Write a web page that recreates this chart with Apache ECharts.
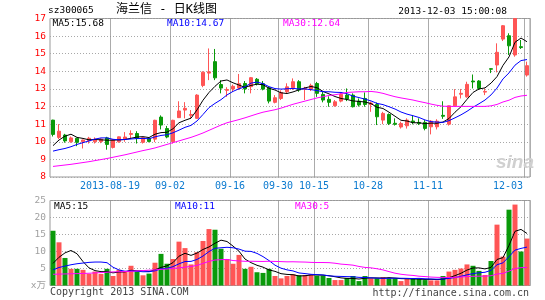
<!DOCTYPE html>
<html><head><meta charset="utf-8">
<script src="https://cdn.jsdelivr.net/npm/echarts@6/dist/echarts.min.js"></script>
<style>html,body{margin:0;padding:0;background:#fff}#c{width:545px;height:300px}</style>
</head><body><div id="c"></div>
<script>
const dates = [
'2013-08-05','2013-08-06','2013-08-07','2013-08-08','2013-08-09','2013-08-12','2013-08-13','2013-08-14','2013-08-15','2013-08-16',
'2013-08-19','2013-08-20','2013-08-21','2013-08-22','2013-08-23','2013-08-26','2013-08-27','2013-08-28','2013-08-29','2013-08-30',
'2013-09-02','2013-09-03','2013-09-04','2013-09-05','2013-09-06','2013-09-09','2013-09-10','2013-09-11','2013-09-12','2013-09-13',
'2013-09-16','2013-09-17','2013-09-18','2013-09-23','2013-09-24','2013-09-25','2013-09-26','2013-09-27','2013-09-30','2013-10-08',
'2013-10-09','2013-10-10','2013-10-11','2013-10-14','2013-10-15','2013-10-16','2013-10-17','2013-10-18','2013-10-21','2013-10-22',
'2013-10-23','2013-10-24','2013-10-25','2013-10-28','2013-10-29','2013-10-30','2013-10-31','2013-11-01','2013-11-04','2013-11-05',
'2013-11-06','2013-11-07','2013-11-08','2013-11-11','2013-11-12','2013-11-13','2013-11-14','2013-11-15','2013-11-18','2013-11-19',
'2013-11-20','2013-11-21','2013-11-22','2013-11-25','2013-11-26','2013-11-27','2013-11-28','2013-11-29','2013-12-02','2013-12-03'];

const openP = [11.23,10.25,10.38,10.00,10.20,10.00,10.05,10.00,10.02,10.22, 9.68,10.00,10.15,10.42,10.47,9.97,10.20,10.15,11.40,10.75,
 10.00,11.37,11.80,11.50,11.33,13.20,13.90,14.55,13.25,12.92, 13.00,13.05,13.31,13.13,13.55,13.30,13.07,12.24,12.46,12.84,
 13.07,13.41,12.98,12.99,13.31,12.69,12.41,12.05,12.31,12.65, 12.65,12.31,12.46,12.12,12.12,11.23,11.55,11.05,10.84,10.91,
 11.18,11.10,11.10,10.85,10.85,11.50,11.00,12.04,12.70,12.55, 13.45,13.45,12.82,14.15,14.36,15.83,16.02,14.93,15.40,13.79];
const closeP = [10.42,10.60,10.05,10.22,9.97,10.10,10.20,10.15,10.15,9.85, 10.12,10.28,10.27,10.47,10.20,10.23,10.02,11.22,10.95,10.27,
 11.22,11.75,11.90,11.55,12.65,13.95,13.97,13.63,13.05,12.97, 13.15,13.30,13.00,13.64,13.30,12.99,12.31,12.50,12.80,13.12,
 13.41,12.94,13.03,13.20,12.75,12.37,12.24,12.27,12.69,12.43, 11.99,12.09,12.12,12.20,11.42,11.61,11.04,10.99,11.04,11.23,
 11.10,11.04,10.76,11.17,11.17,11.45,12.04,12.55,12.75,13.26, 13.40,13.03,12.86,14.12,15.08,16.59,15.45,17.00,15.35,14.32];
const lowP = [10.30,10.15,9.95,9.95,9.75,9.62,9.90,9.90,9.92,9.55, 9.62,9.95,10.00,10.15,9.90,9.90,9.97,9.98,10.70,10.20,
 9.90,11.35,11.33,11.30,11.30,13.10,13.50,13.50,12.75,12.55, 12.83,12.95,12.75,12.75,13.20,12.92,12.18,12.18,12.37,12.75,
 12.94,12.84,12.37,12.88,12.55,12.24,11.99,11.99,12.24,12.31, 11.95,12.00,11.99,11.70,10.95,11.00,10.95,10.92,10.75,10.75,
 10.99,10.95,10.65,10.42,10.70,11.30,10.92,11.99,12.46,12.50, 13.03,12.94,12.65,13.90,13.94,15.72,14.93,14.83,15.27,13.70];
const highP = [11.25,11.00,10.45,10.30,10.22,10.12,10.28,10.25,10.20,10.28, 10.15,10.30,10.55,10.65,10.60,10.27,10.25,11.25,11.50,10.90,
 11.25,12.30,12.25,11.80,12.70,14.00,15.30,15.27,13.50,13.10, 13.25,13.85,13.45,13.68,13.62,13.45,13.10,12.65,12.92,13.32,
 13.60,13.50,13.12,13.30,13.40,12.84,12.58,12.37,12.80,13.03, 12.75,12.46,12.80,12.28,12.23,11.70,11.61,11.33,11.14,11.33,
 11.50,11.33,11.23,11.23,11.28,12.30,12.05,12.99,13.00,13.41, 13.82,13.50,13.03,14.18,15.59,16.63,16.16,17.00,15.78,14.55];

const ma5 = [9.78,10.10,10.32,10.43,10.25,10.19,10.11,10.13,10.11,10.09, 10.09,10.11,10.13,10.20,10.27,10.29,10.24,10.43,10.52,10.54,
 10.74,11.08,11.22,11.34,11.81,12.36,12.80,13.15,13.45,13.51, 13.35,13.22,13.09,13.20,13.27,13.24,13.04,12.94,12.78,12.74,
 12.83,12.95,13.06,13.14,13.07,12.86,12.72,12.57,12.46,12.40, 12.32,12.29,12.26,12.17,11.96,11.89,11.68,11.45,11.22,11.18,
 11.08,11.08,11.03,11.06,11.05,11.12,11.32,11.68,11.99,12.41, 12.80,13.00,13.06,13.33,13.70,14.34,14.82,15.65,15.89,15.68];
const ma10 = [9.47,9.55,9.62,9.72,9.85,9.95,10.05,10.15,10.22,10.22, 10.14,10.11,10.13,10.16,10.18,10.19,10.17,10.28,10.36,10.40,
 10.51,10.66,10.82,10.93,11.18,11.55,11.94,12.18,12.39,12.66, 12.86,13.01,13.12,13.33,13.39,13.30,13.13,13.02,12.99,13.01,
 13.03,13.00,13.00,12.96,12.91,12.84,12.84,12.81,12.80,12.73, 12.59,12.51,12.42,12.32,12.18,12.11,11.99,11.86,11.69,11.57,
 11.48,11.38,11.24,11.14,11.12,11.10,11.20,11.36,11.53,11.73, 11.96,12.16,12.37,12.66,13.05,13.57,13.91,14.35,14.61,14.67];
const ma30 = [8.60,8.64,8.68,8.72,8.77,8.82,8.87,8.93,8.99,9.05, 9.12,9.19,9.26,9.34,9.42,9.50,9.57,9.65,9.75,9.85,
 9.95,10.05,10.15,10.25,10.37,10.50,10.65,10.80,10.95,11.08, 11.17,11.26,11.36,11.47,11.58,11.68,11.75,11.82,11.91,12.02,
 12.13,12.22,12.31,12.40,12.49,12.56,12.63,12.67,12.73,12.80, 12.82,12.84,12.84,12.86,12.82,12.75,12.65,12.56,12.49,12.43,
 12.37,12.29,12.22,12.14,12.07,12.02,12.01,12.01,12.01,12.01, 12.01,12.01,12.01,12.04,12.12,12.26,12.36,12.52,12.60,12.64];

const volume = [16.1,12.7,8.1,4.9,4.9,4.6,3.4,4.1,3.4,4.9, 2.8,4.6,4.3,5.8,4.1,3.0,3.5,6.7,9.3,6.4,
 7.8,12.9,11.0,6.2,9.8,13.1,16.6,16.4,10.8,7.8, 6.4,9.0,4.9,5.5,3.9,3.7,4.9,2.8,2.1,2.8,
 3.3,3.0,3.1,3.3,2.9,2.9,2.2,1.6,1.6,2.2, 2.8,1.3,2.8,2.1,2.1,2.5,2.1,2.1,1.3,1.9,
 2.2,1.9,1.6,1.5,1.5,2.8,4.1,4.6,5.0,6.2, 5.8,4.3,3.1,7.2,17.9,8.5,22.3,23.8,10.0,13.8];
const vma5 = [6.5,8.3,9.6,10.3,9.34,7.04,5.18,4.38,4.08,4.08, 3.72,3.96,4.0,4.48,4.32,4.36,4.14,4.62,5.32,5.78,
 6.74,8.62,9.48,8.86,9.54,10.6,11.34,12.42,13.34,12.94, 11.6,10.08,7.78,6.72,5.94,5.4,4.58,4.16,3.48,3.26,
 3.18,2.8,2.86,3.1,3.12,3.04,2.88,2.58,2.24,2.1, 2.08,1.9,2.14,2.24,2.22,2.16,2.32,2.18,2.02,1.98,
 1.92,1.88,1.78,1.82,1.74,1.86,2.3,2.9,3.6,4.54, 5.14,5.18,4.88,5.32,7.66,8.2,11.8,15.94,16.5,15.3];
const vma10 = [4.6,5.3,5.7,6.1,6.4,6.6,6.8,6.9,6.9,6.71, 5.38,4.57,4.19,4.28,4.2,4.04,4.05,4.31,4.9,5.05,
 5.55,6.38,7.05,7.09,7.66,8.67,9.98,10.95,11.1,11.24, 11.1,10.71,10.1,10.03,9.44,8.5,7.33,5.97,5.1,4.6,
 4.29,3.69,3.51,3.29,3.19,3.11,2.84,2.72,2.67,2.61, 2.56,2.39,2.36,2.24,2.16,2.12,2.11,2.16,2.13,2.1,
 2.04,2.1,1.98,1.92,1.86,1.89,2.09,2.34,2.71,3.14, 3.5,3.74,3.89,4.46,6.1,6.67,8.49,10.41,10.91,11.3];
const vma30 = [3.3,3.35,3.4,3.45,3.5,3.55,3.6,3.7,3.8,3.9, 4.0,4.05,4.1,4.2,4.3,4.4,4.5,4.6,4.75,4.85,
 5.0,5.2,5.4,5.6,5.9,6.5,7.1,7.5,7.6,7.67, 7.34,7.22,7.11,7.13,7.1,7.07,7.12,7.08,7.03,6.96,
 6.98,6.93,6.89,6.8,6.76,6.76,6.72,6.55,6.29,6.15, 5.98,5.6,5.32,5.19,4.93,4.58,4.09,3.62,3.3,3.1,
 2.96,2.73,2.62,2.48,2.4,2.37,2.35,2.41,2.5,2.62, 2.7,2.74,2.74,2.87,3.37,3.56,4.23,4.97,5.25,5.3];

const labelIdx = [10,20,30,38,44,53,63,79];

const up = '#ff5555', down = '#0a9a0a';
const mono = "'DejaVu Sans Mono', 'Noto Sans CJK SC', monospace";
const gridDot = {color:'#a8a8a8', type:[1,2], width:1};
const vDot = {color:'#909090', type:[1,1], width:1};

const kData = dates.map((d,i)=>[openP[i], closeP[i], lowP[i], highP[i]]);
const volData = volume.map((v,i)=>({value:v, itemStyle:{color: closeP[i] >= openP[i] ? up : down}}));

function maLine(data, color, xi, yi){
  return {type:'line', data:data, xAxisIndex:xi, yAxisIndex:yi, symbol:'none', showSymbol:false,
    lineStyle:{color:color, width:1}, itemStyle:{color:color}, silent:true, z:5};
}
function txt(x, y, text, fill, font, align){
  return {type:'text', x:x, y:y, silent:true, z:100,
    style:{text:text, fill:fill, font:font, align:align||'left', verticalAlign:'middle'}};
}

const texts = [
  txt(48, 11, 'sz300065', '#000', "9.5px 'DejaVu Sans Mono'"),
  txt(116, 10, '海兰信 - 日K线图', '#000', "12px 'DejaVu Sans Mono', 'Noto Sans CJK SC'"),
  txt(507, 11.5, '2013-12-03 15:00:08', '#000', "9.5px 'DejaVu Sans Mono'", 'right'),
  txt(52.5, 23.5, 'MA5:15.68', '#000', "9.5px 'DejaVu Sans Mono'"),
  txt(167, 23.5, 'MA10:14.67', '#0000ff', "9.5px 'DejaVu Sans Mono'"),
  txt(283, 23.5, 'MA30:12.64', '#ff00ff', "9.5px 'DejaVu Sans Mono'"),
  txt(54, 206.5, 'MA5:15', '#000', "9.5px 'DejaVu Sans Mono'"),
  txt(175, 206.5, 'MA10:11', '#0000ff', "9.5px 'DejaVu Sans Mono'"),
  txt(295, 206.5, 'MA30:5', '#ff00ff', "9.5px 'DejaVu Sans Mono'"),
  txt(50, 292.5, 'Copyright 2013 SINA.COM', '#444', "10px 'DejaVu Sans Mono'"),
  txt(529, 293, 'http://finance.sina.com.cn', '#444', "10px 'DejaVu Sans Mono'", 'right'),
  txt(496, 163, 'sina', '#d0d0d0', "italic bold 19px 'Liberation Sans'")
];

const chart = echarts.init(document.getElementById('c'), null, {renderer:'canvas', width:545, height:300});
const option = {
  animation:false,
  backgroundColor:'#fff',
  grid:[
    {left:50, top:18.5, width:480, height:158.5, show:true, borderColor:'#999', borderWidth:1, backgroundColor:'transparent'},
    {left:50, top:200.5, width:480, height:85, show:true, borderColor:'#999', borderWidth:1, backgroundColor:'transparent'}
  ],
  xAxis:[
    {type:'category', gridIndex:0, data:dates, boundaryGap:true,
     axisLine:{show:false}, axisTick:{show:false},
     axisLabel:{interval:(i)=>labelIdx.indexOf(i)>=0,
       formatter:(v,i)=> i===10 ? v : (i===79 ? '{last|'+v.slice(5)+'}' : v.slice(5)),
       color:'#0d7bd0', fontFamily:mono, fontSize:10, margin:4, padding:[0,6,0,0],
       rich:{last:{padding:[0,32,0,0], color:'#0d7bd0', fontFamily:mono, fontSize:10}}},
     splitLine:{show:true, interval:(i)=>labelIdx.indexOf(i)>=0, lineStyle:vDot}},
    {type:'category', gridIndex:1, data:dates, boundaryGap:true,
     axisLine:{show:false}, axisTick:{show:false}, axisLabel:{show:false},
     splitLine:{show:true, interval:(i)=>labelIdx.indexOf(i)>=0, lineStyle:vDot}}
  ],
  yAxis:[
    {type:'value', gridIndex:0, min:8, max:17, interval:1,
     axisLine:{show:false}, axisTick:{show:false},
     axisLabel:{color:'#ff0000', fontFamily:mono, fontSize:9.5, margin:4},
     splitLine:{show:true, lineStyle:gridDot}},
    {type:'value', gridIndex:1, min:0, max:25, interval:5,
     axisLine:{show:false}, axisTick:{show:false},
     axisLabel:{color:'#a0a0a0', fontFamily:mono, fontSize:9.5, margin:4,
       formatter:(v)=> v===0 ? 'x万' : String(v)},
     splitLine:{show:true, lineStyle:gridDot}}
  ],
  series:[
    {type:'candlestick', xAxisIndex:0, yAxisIndex:0, data:kData, barWidth:4, silent:true,
     itemStyle:{color:up, color0:down, borderColor:up, borderColor0:down, borderWidth:1}},
    maLine(ma5,'#000000',0,0), maLine(ma10,'#0000ff',0,0), maLine(ma30,'#ff00ff',0,0),
    {type:'bar', xAxisIndex:1, yAxisIndex:1, data:volData, barWidth:5, silent:true},
    maLine(vma5,'#000000',1,1), maLine(vma10,'#0000ff',1,1), maLine(vma30,'#ff00ff',1,1)
  ],
  graphic: texts
};
chart.setOption(option);

// Vertical grid lines placed through the category axes (same positions as the split lines)
try {
  const vlines = [];
  [[0,8,17],[1,0,25]].forEach(([g, yMin, yMax]) => {
    const a = chart.convertToPixel({gridIndex:g}, [0, yMax]);
    const b = chart.convertToPixel({gridIndex:g}, [1, yMin]);
    const half = (b[0] - a[0]) / 2;
    labelIdx.forEach(i => {
      const p = chart.convertToPixel({gridIndex:g}, [i, yMax]);
      const q = chart.convertToPixel({gridIndex:g}, [i, yMin]);
      const x = Math.round(p[0] - half) + 0.5;
      if (isFinite(x) && isFinite(p[1]) && isFinite(q[1])) {
        vlines.push({type:'line', silent:true, z:1,
          shape:{x1:x, y1:p[1], x2:x, y2:q[1]},
          style:{stroke:'#909090', lineWidth:1, lineDash:[1,1]}});
      }
    });
  });
  chart.setOption({graphic: texts.concat(vlines)}, {replaceMerge:['graphic']});
} catch (e) { /* keep split lines only */ }
</script>
</body></html>
